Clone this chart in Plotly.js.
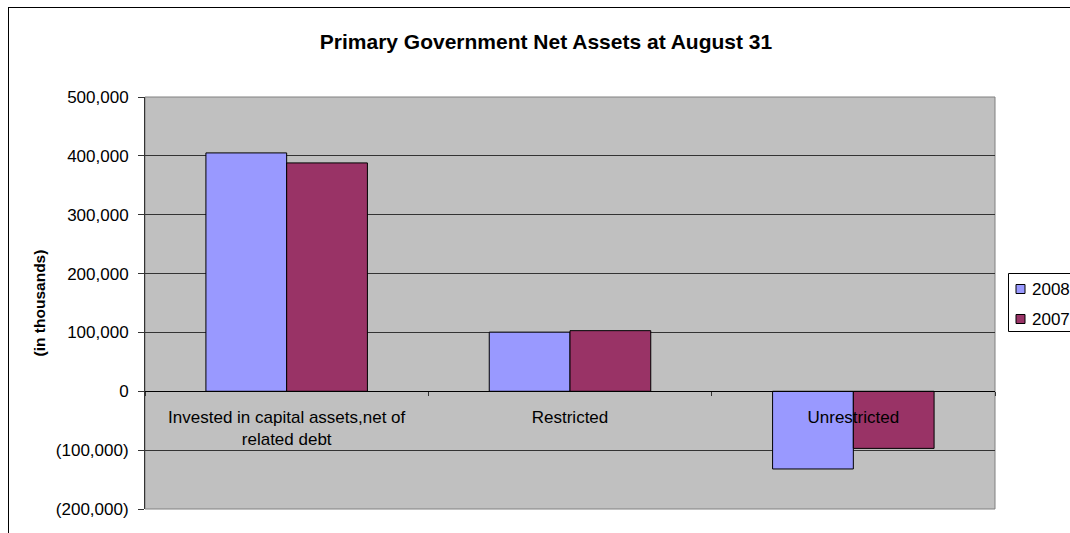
<!DOCTYPE html>
<html>
<head>
<meta charset="utf-8">
<script src="https://cdn.plot.ly/plotly-3.0.1.min.js"></script>
<style>
  html, body { margin: 0; padding: 0; background: #ffffff; overflow: hidden; }
  #frame { position: absolute; left: 8px; top: 7px; width: 1200px; height: 600px; border: 1px solid #000; }
  #chart { position: absolute; left: 0; top: 0; width: 1100px; height: 533px; }
</style>
</head>
<body>
<div id="frame"></div>
<div id="chart"></div>
<script>
const categories = ["Invested in capital assets,net of<br>related debt", "Restricted", "Unrestricted"];
const series2008 = [405000, 100500, -132000];
const series2007 = [388000, 103000, -97000];
const seriesNames = ["2008", "2007"];
const seriesColors = ["#9999FF", "#993366"];
const yTickValues = [-200000, -100000, 0, 100000, 200000, 300000, 400000, 500000];
const yTickLabels = ["(200,000)", "(100,000)", "0", "100,000", "200,000", "300,000", "400,000", "500,000"];

const fontFamily = "Arial, 'Liberation Sans', sans-serif";
const W = 1100, H = 533;
const M = { l: 145, r: 105, t: 97, b: 24 };
const plotW = W - M.l - M.r, plotH = H - M.t - M.b;
// convert page pixel to paper coordinates (used only for legend placement)
const px = x => (x - M.l) / plotW;
const py = y => (H - M.b - y) / plotH;

const traces = [
  {
    type: "bar", name: seriesNames[0], x: categories, y: series2008,
    marker: { color: seriesColors[0], line: { color: "#000000", width: 1 } }
  },
  {
    type: "bar", name: seriesNames[1], x: categories, y: series2007,
    marker: { color: seriesColors[1], line: { color: "#000000", width: 1 } }
  }
];

// Custom legend (box, swatches, labels) built from seriesNames / seriesColors
const legendRows = [289, 319];
const legendShapes = [
  { type: "rect", xref: "paper", yref: "paper", x0: px(1008.5), x1: px(1090), y0: py(273.5), y1: py(331.5),
    line: { color: "#000", width: 1 }, fillcolor: "#ffffff", layer: "above" }
];
const legendAnnotations = [];
seriesNames.forEach((name, i) => {
  const cy = legendRows[i];
  legendShapes.push({
    type: "rect", xref: "paper", yref: "paper", x0: px(1016), x1: px(1025), y0: py(cy - 4.5), y1: py(cy + 4.5),
    line: { color: "#000", width: 1 }, fillcolor: seriesColors[i], layer: "above"
  });
  legendAnnotations.push({
    xref: "paper", yref: "paper", x: px(1030), y: py(cy), xanchor: "left", yanchor: "middle",
    text: name, showarrow: false, font: { family: fontFamily, size: 17, color: "#000" }
  });
});

const layout = {
  width: W, height: H,
  margin: M,
  paper_bgcolor: "rgba(0,0,0,0)",
  plot_bgcolor: "#C0C0C0",
  font: { family: fontFamily, size: 17, color: "#000" },
  title: {
    text: "<b>Primary Government Net Assets at August 31</b>",
    font: { family: fontFamily, size: 21, color: "#000" },
    x: 546 / W, xref: "container", xanchor: "center", y: 1 - 42 / H, yref: "container", yanchor: "middle"
  },
  barmode: "group",
  bargap: 0.43,
  bargroupgap: 0,
  showlegend: false,
  xaxis: {
    type: "category",
    anchor: "free",
    position: 2 / 7,
    showline: true, linecolor: "#000", linewidth: 1,
    ticks: "outside", tickson: "boundaries", ticklen: 4, tickcolor: "#333",
    showgrid: false, zeroline: false,
    tickfont: { family: fontFamily, size: 17, color: "#000" },
    ticklabelstandoff: 10,
    layer: "above traces"
  },
  yaxis: {
    range: [-200000, 500000],
    tickvals: yTickValues, ticktext: yTickLabels,
    ticks: "outside", ticklen: 6, tickcolor: "#333",
    showline: true, linecolor: "#333", linewidth: 1,
    showgrid: true, gridcolor: "#333", gridwidth: 1,
    zeroline: false,
    ticklabelstandoff: 6,
    tickfont: { family: fontFamily, size: 17, color: "#000" },
    title: { text: "<b>(in thousands)</b>", font: { family: fontFamily, size: 15.5, color: "#000" }, standoff: 6 }
  },
  shapes: [
    { type: "rect", xref: "paper", yref: "paper", x0: 0, x1: 1, y0: 0, y1: 1,
      line: { color: "#808080", width: 1 }, fillcolor: "rgba(0,0,0,0)", layer: "below" }
  ].concat(legendShapes),
  annotations: legendAnnotations
};

Plotly.newPlot("chart", traces, layout, { displayModeBar: false, staticPlot: true });
</script>
</body>
</html>
